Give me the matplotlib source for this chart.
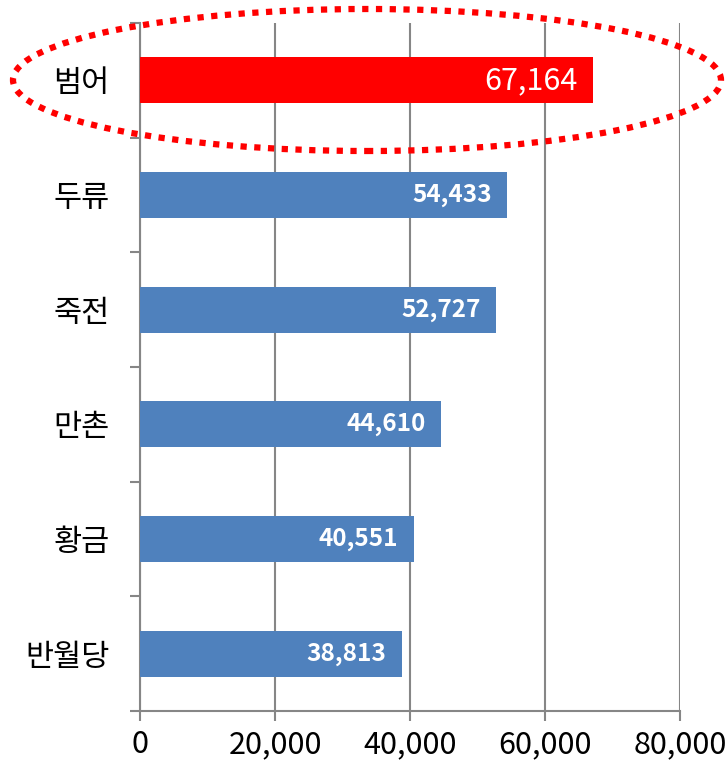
import numpy as np
import matplotlib.pyplot as plt
from matplotlib.patches import Ellipse

plt.rcParams['font.family'] = ['Noto Sans CJK KR', 'DejaVu Sans']

# 데이터
stations = ['범어', '두류', '죽전', '만촌', '황금', '반월당']
counts = [67164, 54433, 52727, 44610, 40551, 38813]
bar_colors = ['#FF0000', '#4F81BD', '#4F81BD', '#4F81BD', '#4F81BD', '#4F81BD']
xticks = [0, 20000, 40000, 60000, 80000]

fig = plt.figure(figsize=(7.27, 7.61), dpi=100)
ax = fig.add_axes([140/727, 50/761, 540/727, 688/761])

y = np.arange(len(stations))[::-1]  # 위에서부터 순서대로
ax.barh(y, counts, height=0.4, color=bar_colors, zorder=3)

for i, (yy, v) in enumerate(zip(y, counts)):
    if i == 0:
        ax.text(v - 2300, yy, f'{v:,}', color='white', fontsize=22,
                ha='right', va='center', zorder=4)
    else:
        ax.text(v - 2300, yy, f'{v:,}', color='white', fontsize=17.5,
                fontweight='bold', ha='right', va='center', zorder=4)

ax.set_xlim(0, 80000)
ax.set_ylim(-0.5, len(stations) - 0.5)
ax.set_xticks(xticks)
ax.set_xticklabels([f'{t:,}' for t in xticks], fontsize=22)
ax.set_yticks(y)
ax.set_yticklabels(stations, fontsize=22, fontweight='medium')
ax.set_yticks(np.arange(-0.5, len(stations)), minor=True)
ax.tick_params(axis='y', which='major', length=0, pad=22)
ax.tick_params(axis='y', which='minor', length=7, width=1.5, color='#868686', direction='out')
ax.tick_params(axis='x', length=7, width=1.5, color='#868686', direction='out', pad=6)

ax.xaxis.grid(True, color='#868686', linewidth=1.5, zorder=0)
ax.set_axisbelow(True)
for s in ['top', 'right']:
    ax.spines[s].set_visible(False)
for s in ['left', 'bottom']:
    ax.spines[s].set_color('#868686')
    ax.spines[s].set_linewidth(1.5)

# 범어 강조 점선 타원
ell = Ellipse((367/727, 1 - 80/761), 708/727, 142/761, transform=fig.transFigure,
              fill=False, edgecolor='#FF0000', linewidth=4.5, linestyle=(0, (1, 1.2)),
              clip_on=False, zorder=5)
fig.patches.append(ell)

fig.savefig('out.png', dpi=100)
